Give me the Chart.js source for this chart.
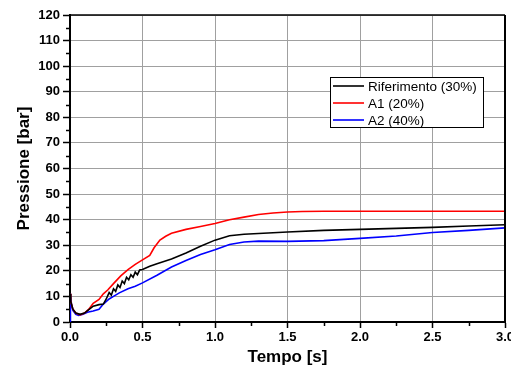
<!DOCTYPE html>
<html lang="it">
<head>
<meta charset="UTF-8">
<title>Pressione</title>
<script src="https://cdn.jsdelivr.net/npm/chart.js"></script>
<style>
  html, body { margin: 0; padding: 0; background: #fff; }
  #wrap { width: 511px; height: 368px; }
</style>
</head>
<body>
<div id="wrap"><canvas id="chart" width="511" height="368"></canvas></div>
<script>
// dati
const seriesNames = ['Riferimento (30%)', 'A1 (20%)', 'A2 (40%)'];

const tRif = [0, 0.005, 0.02, 0.04, 0.07, 0.1, 0.13, 0.16, 0.2, 0.23, 0.25, 0.27, 0.285, 0.3, 0.315, 0.33, 0.345, 0.36, 0.375, 0.39, 0.405, 0.42, 0.435, 0.45, 0.465, 0.48, 0.5, 0.55, 0.6, 0.7, 0.8, 0.9, 1.0, 1.1, 1.2, 1.3, 1.5, 1.75, 2.0, 2.25, 2.5, 2.75, 3.0];
const pRif = [11, 8, 5, 3.5, 3, 3.5, 4.8, 6.2, 6.8, 7, 9, 11.5, 10.5, 13, 12, 14.5, 13.5, 16, 15, 17.5, 16.5, 18.5, 17.5, 19.5, 18.5, 20.3, 20.5, 21.8, 22.8, 24.6, 27, 29.6, 32, 33.7, 34.3, 34.6, 35.2, 35.8, 36.2, 36.6, 37, 37.5, 38];

const tA1 = [0, 0.005, 0.02, 0.04, 0.07, 0.1, 0.13, 0.16, 0.2, 0.23, 0.26, 0.3, 0.35, 0.4, 0.45, 0.5, 0.55, 0.58, 0.62, 0.66, 0.7, 0.8, 0.9, 1.0, 1.1, 1.2, 1.3, 1.4, 1.5, 1.6, 1.75, 2.0, 2.5, 3.0];
const pA1 = [11, 8, 5, 3.5, 2.8, 3.5, 5, 7.3, 8.8, 11, 12.5, 15, 18, 20.5, 22.5, 24.3, 26, 29, 32, 33.5, 34.7, 36.2, 37.3, 38.5, 40, 41, 42, 42.6, 43, 43.2, 43.3, 43.3, 43.3, 43.3];

const tA2 = [0, 0.003, 0.01, 0.02, 0.04, 0.06, 0.09, 0.12, 0.16, 0.2, 0.23, 0.27, 0.3, 0.34, 0.4, 0.45, 0.5, 0.6, 0.7, 0.8, 0.9, 1.0, 1.1, 1.2, 1.3, 1.5, 1.75, 2.0, 2.25, 2.5, 2.75, 3.0];
const pA2 = [0, 11, 7, 4.5, 3, 2.6, 3, 3.8, 4.3, 5, 7, 9, 10, 11.4, 13, 14, 15.3, 18.3, 21.5, 24, 26.4, 28.2, 30.3, 31.3, 31.6, 31.5, 31.8, 32.7, 33.6, 35, 35.8, 36.8];

const colori = ['#000000', '#ff0000', '#0000ff'];

function punti(t, p) {
    return t.map((x, i) => ({ x: x, y: p[i] }));
}

const FONT = "Arial, 'Liberation Sans', sans-serif";

// tacche minori, cornice e legenda con riquadro
const extraPlugin = {
    id: 'extra',
    afterDraw(chart) {
        const ctx = chart.ctx;
        const a = chart.chartArea;
        const xs = chart.scales.x, ys = chart.scales.y;
        ctx.save();
        ctx.strokeStyle = '#000';
        ctx.lineWidth = 1.5;
        // tacche minori
        ctx.beginPath();
        for (let v = 5; v < 120; v += 10) {
            const y = Math.round(ys.getPixelForValue(v)) + 0.5;
            ctx.moveTo(a.left - 4, y);
            ctx.lineTo(a.left, y);
        }
        for (let v = 0.25; v < 3; v += 0.5) {
            const x = Math.round(xs.getPixelForValue(v)) + 0.5;
            ctx.moveTo(x, a.bottom);
            ctx.lineTo(x, a.bottom + 4);
        }
        ctx.stroke();
        // cornice superiore e destra
        ctx.beginPath();
        ctx.moveTo(a.left, a.top);
        ctx.lineTo(a.right, a.top);
        ctx.stroke();
        ctx.lineWidth = 2;
        ctx.beginPath();
        ctx.moveTo(a.right, a.top);
        ctx.lineTo(a.right, a.bottom);
        ctx.stroke();

        // legenda
        const bx = 330.5, by = 77.5, bw = 153, bh = 50;
        ctx.fillStyle = '#fff';
        ctx.fillRect(bx, by, bw, bh);
        ctx.lineWidth = 1;
        ctx.strokeStyle = '#000';
        ctx.strokeRect(bx, by, bw, bh);
        ctx.font = '13.5px ' + FONT;
        ctx.textBaseline = 'middle';
        chart.data.datasets.forEach((ds, i) => {
            const y = 86 + i * 17;
            ctx.strokeStyle = ds.borderColor;
            ctx.lineWidth = 1.6;
            ctx.beginPath();
            ctx.moveTo(333, y);
            ctx.lineTo(364, y);
            ctx.stroke();
            ctx.fillStyle = '#000';
            ctx.fillText(ds.label, 368, y + 1);
        });
        ctx.restore();
    }
};

new Chart(document.getElementById('chart'), {
    type: 'line',
    data: {
        datasets: seriesNames.map((n, i) => ({
            label: n,
            data: punti([tRif, tA1, tA2][i], [pRif, pA1, pA2][i]),
            borderColor: colori[i],
            backgroundColor: colori[i],
            borderWidth: 1.6,
            pointRadius: 0,
            tension: 0
        }))
    },
    options: {
        responsive: false,
        animation: false,
        layout: { padding: { top: 15, right: 6, left: 0, bottom: 0 } },
        plugins: {
            legend: { display: false },
            tooltip: { enabled: false }
        },
        scales: {
            x: {
                type: 'linear',
                min: 0,
                max: 3,
                afterFit(s) { s.height = 46; s.paddingLeft = 0; s.paddingRight = 0; },
                ticks: {
                    stepSize: 0.5,
                    color: '#000',
                    padding: 2,
                    maxRotation: 0,
                    font: { family: FONT, size: 13, weight: 'bold' },
                    callback: v => v.toFixed(1)
                },
                grid: { color: '#a0a0a0', lineWidth: 1, tickLength: 6, tickColor: '#000', tickWidth: 1.5 },
                border: { color: '#000', width: 2 },
                title: {
                    display: true,
                    text: 'Tempo [s]',
                    color: '#000',
                    padding: 0,
                    font: { family: FONT, size: 17, weight: 'bold' }
                }
            },
            y: {
                min: 0,
                max: 120,
                afterFit(s) { s.width = 70; },
                ticks: {
                    stepSize: 10,
                    color: '#000',
                    padding: 3,
                    font: { family: FONT, size: 13, weight: 'bold' }
                },
                grid: { color: '#a0a0a0', lineWidth: 1, tickLength: 7, tickColor: '#000', tickWidth: 1.5 },
                border: { color: '#000', width: 2 },
                title: {
                    display: true,
                    text: 'Pressione [bar]',
                    color: '#000',
                    padding: { top: 14, bottom: 0 },
                    font: { family: FONT, size: 17, weight: 'bold' }
                }
            }
        }
    },
    plugins: [extraPlugin]
});
</script>
</body>
</html>
